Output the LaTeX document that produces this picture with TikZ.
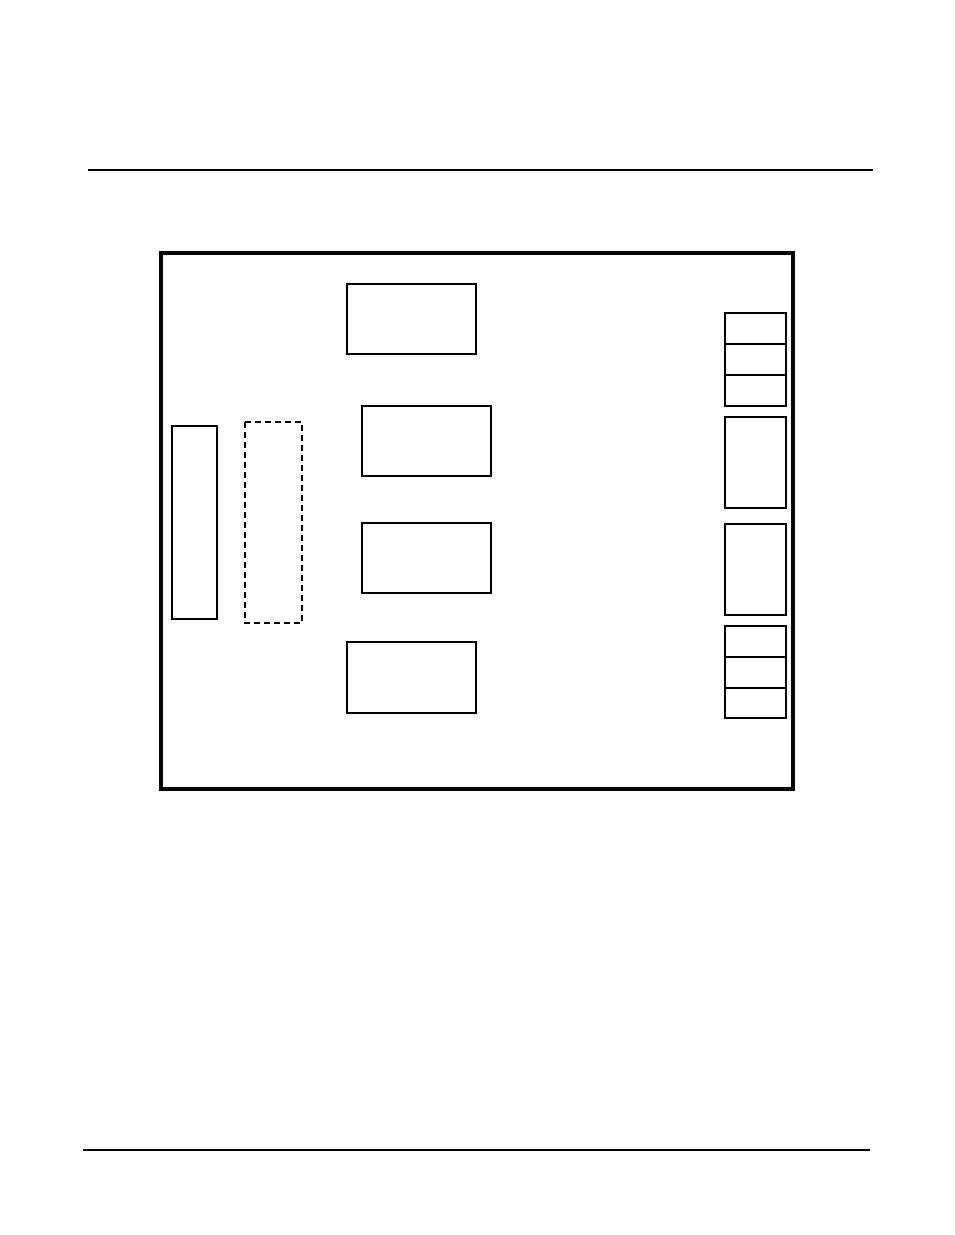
\documentclass[tikz,border=0pt]{standalone}
\usepackage{tikz}

\tikzset{
  board/.style={line width=3pt},
  part/.style={line width=1.6pt},
  slotbox/.style={line width=1.6pt, dash pattern=on 4.5pt off 3pt},
  rule/.style={line width=1pt}
}

\begin{document}
\begin{tikzpicture}[x=0.75pt,y=-0.75pt]
            \useasboundingbox (0,0) rectangle (954,1235);

            % Page rules
            \draw[rule] (88,170) -- (873,170);
            \draw[line width=2pt] (83,1150) -- (870,1150);

            % Board outline
            \draw[board] (161,253) rectangle (793,789);

            % Centre blocks
            \draw[part] (347,284) rectangle (476,354);
            \draw[part] (362,406) rectangle (491,476);
            \draw[part] (362,523) rectangle (491,593);
            \draw[part] (347,642) rectangle (476,713);

            % Left connector and empty slot
            \draw[part] (172,426) rectangle (217,619);
            \draw[slotbox] (245,422) rectangle (302,623);

            % Right edge connectors
            \draw[part] (725,313) rectangle (786,344);
            \draw[part] (725,344) rectangle (786,375);
            \draw[part] (725,375) rectangle (786,406);

            \draw[part] (725,417) rectangle (786,508);
            \draw[part] (725,524) rectangle (786,615);

            \draw[part] (725,626) rectangle (786,657);
            \draw[part] (725,657) rectangle (786,688);
            \draw[part] (725,688) rectangle (786,718);
        \end{tikzpicture}
\end{document}
